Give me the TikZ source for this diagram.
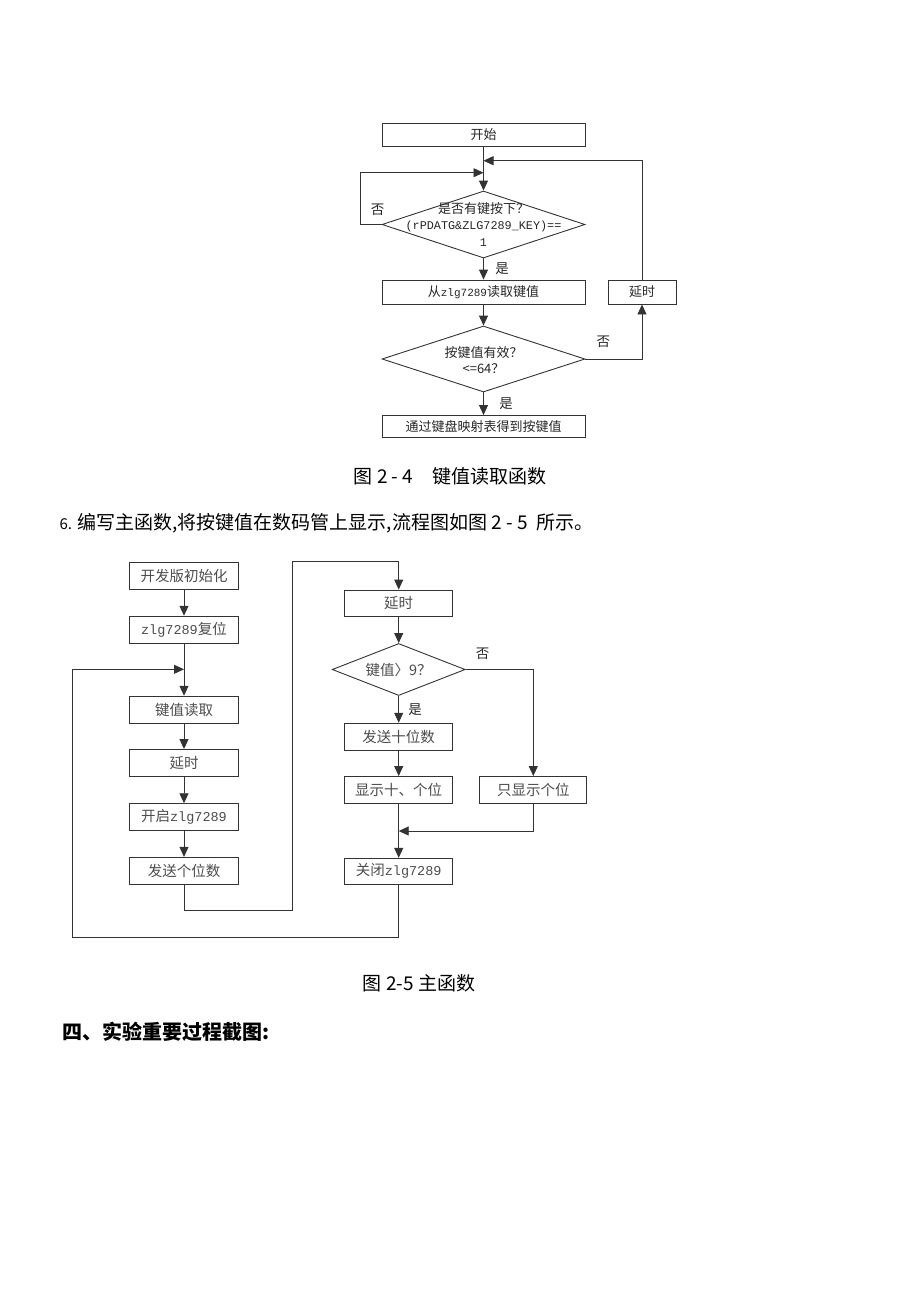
\documentclass[tikz,border=0pt]{standalone}
\usepackage{fontspec}
\setmainfont{Noto Sans CJK SC}
\newfontfamily\mono{Liberation Mono}
\usetikzlibrary{arrows.meta, shapes.geometric}

\tikzset{
  box/.style={draw=black!80, line width=0.9pt, inner sep=0pt},
  dia/.style={draw=black!80, line width=0.9pt, diamond, inner sep=0pt},
  link/.style={draw=black!80, line width=0.9pt},
  arr/.style={link, -{Triangle[length=10pt, width=9pt]}},
  txa/.style={font=\fontsize{13}{16.5}\selectfont, text=black!85},
  txb/.style={font=\fontsize{14.5}{17}\selectfont, text=black!70},
  lbl/.style={font=\fontsize{13.5}{15}\selectfont, text=black!85},
  figcap/.style={font=\fontsize{19}{22}\selectfont}
}

\begin{document}
\begin{tikzpicture}[x=1pt, y=-1pt]
  \useasboundingbox (0,0) rectangle (920,1302);

  % Figure 2-4: key reading
  \node[box, txa, minimum width=203pt, minimum height=23pt] (start) at (483.5,134.5) {开始};
  \node[dia, minimum width=203pt, minimum height=67pt] (haskey) at (483.5,224.5) {};
  \node[txa, align=center] (haskeytxt) at (483.5,224.5)
    {是否有键按下？\\{\mono\fontsize{11.8}{16.5}\selectfont (rPDATG\&ZLG7289\_KEY)==}\\{\mono\fontsize{11.8}{16.5}\selectfont 1}};
  \node[box, txa, minimum width=203pt, minimum height=24pt] (read) at (483.5,292) {从{\mono\fontsize{11}{13}\selectfont zlg7289}读取键值};
  \node[box, txa, minimum width=68pt, minimum height=24pt] (wait) at (642,292) {延时};
  \node[dia, minimum width=203pt, minimum height=66pt] (valid) at (483.5,359) {};
  \node[txa, align=center] (validtxt) at (483.5,360) {按键值有效？\\<=64？};
  \node[box, txa, minimum width=203pt, minimum height=22pt] (map) at (483.5,426.5) {通过键盘映射表得到按键值};

  \coordinate (m1) at (483.5,160.7);
  \coordinate (m2) at (483.5,172.7);

  % Connectors of figure 2-4
  \draw[arr] (start) -- (haskey.north);
  \draw[arr] (wait.north) |- (m1);
  \draw[arr] (haskey.west) -- ++(-21.5,0) |- (m2);
  \path (haskey.west) ++(-4,-15) node[lbl] (no1) {否};
  \draw[arr] (haskey.south) -- (read.north) node[lbl, midway, right=8pt] (yes1) {是};
  \draw[arr] (read) -- (valid.north);
  \draw[arr] (valid.east) -| (wait.south);
  \path (valid.east) ++(18,-17) node[lbl] (no2) {否};
  \draw[arr] (valid.south) -- (map.north) node[lbl, midway, right=12pt] (yes2) {是};

  % Text between the figures
  \node[figcap] (cap1) at (450,476) {图 2 - 4\quad 键值读取函数};
  \node[figcap, anchor=west] (step6) at (56,523) {{\fontsize{15}{18}\selectfont 6.} 编写主函数,将按键值在数码管上显示,流程图如图 2 - 5\ \ 所示。};

  % Figure 2-5: main function, left column
  \foreach \n/\y/\t in {init/575.5/开发版初始化, reset/629.7/{{\mono\fontsize{13.5}{16}\selectfont zlg7289}复位},
                        getkey/709.7/键值读取, pause/763/延时, open/817.2/{开启{\mono\fontsize{13.5}{16}\selectfont zlg7289}},
                        sendone/870.8/发送个位数} {
    \node[box, txb, minimum width=109pt, minimum height=27pt] (\n) at (184,\y) {\t};
  }

  % Right column
  \node[box, txb, minimum width=108pt, minimum height=26pt] (pauseb) at (398.7,603) {延时};
  \node[dia, minimum width=133pt, minimum height=52pt] (big) at (398.7,669.5) {};
  \node[txb] (bigtxt) at (398.7,669.5) {键值〉9？};
  \node[box, txb, minimum width=108pt, minimum height=27pt] (sendten) at (398.7,736.7) {发送十位数};
  \node[box, txb, minimum width=108pt, minimum height=27pt] (showtwo) at (398.7,790) {显示十、个位};
  \node[box, txb, minimum width=107pt, minimum height=27pt] (showone) at (533.3,790) {只显示个位};
  \node[box, txb, minimum width=108pt, minimum height=26pt] (close) at (398.7,871.3) {关闭{\mono\fontsize{13.5}{16}\selectfont zlg7289}};

  \coordinate (m3) at (184,669.3);
  \coordinate (m4) at (398.7,831);
  \coordinate (jumpb) at (292.3,910.7);
  \coordinate (jump) at (292.3,561.7);
  \coordinate (back) at (72.3,937.7);

  % Connectors of figure 2-5
  \draw[arr] (init) -- (reset);
  \draw[arr] (reset) -- (getkey);
  \draw[arr] (getkey) -- (pause);
  \draw[arr] (pause) -- (open);
  \draw[arr] (open) -- (sendone);
  \draw[arr] (sendone.south) |- (jumpb) -- (jump) -| (pauseb.north);
  \draw[arr] (close.south) |- (back) |- (m3);
  \draw[arr] (pauseb) -- (big.north);
  \draw[arr] (big.south) -- (sendten.north) node[lbl, midway, right=6pt] (yes3) {是};
  \draw[arr] (big.east) -| (showone.north);
  \path (big.east) ++(17,-16) node[lbl] (no3) {否};
  \draw[arr] (sendten) -- (showtwo);
  \draw[arr] (showtwo) -- (close);
  \draw[arr] (showone.south) |- (m4);

  % Caption and heading
  \node[figcap] (cap2) at (419,983) {图 2-5 主函数};
  \node[anchor=west, font=\fontsize{20}{24}\selectfont\bfseries] (sec4) at (59,1032) {四、实验重要过程截图:};
\end{tikzpicture}
\end{document}
